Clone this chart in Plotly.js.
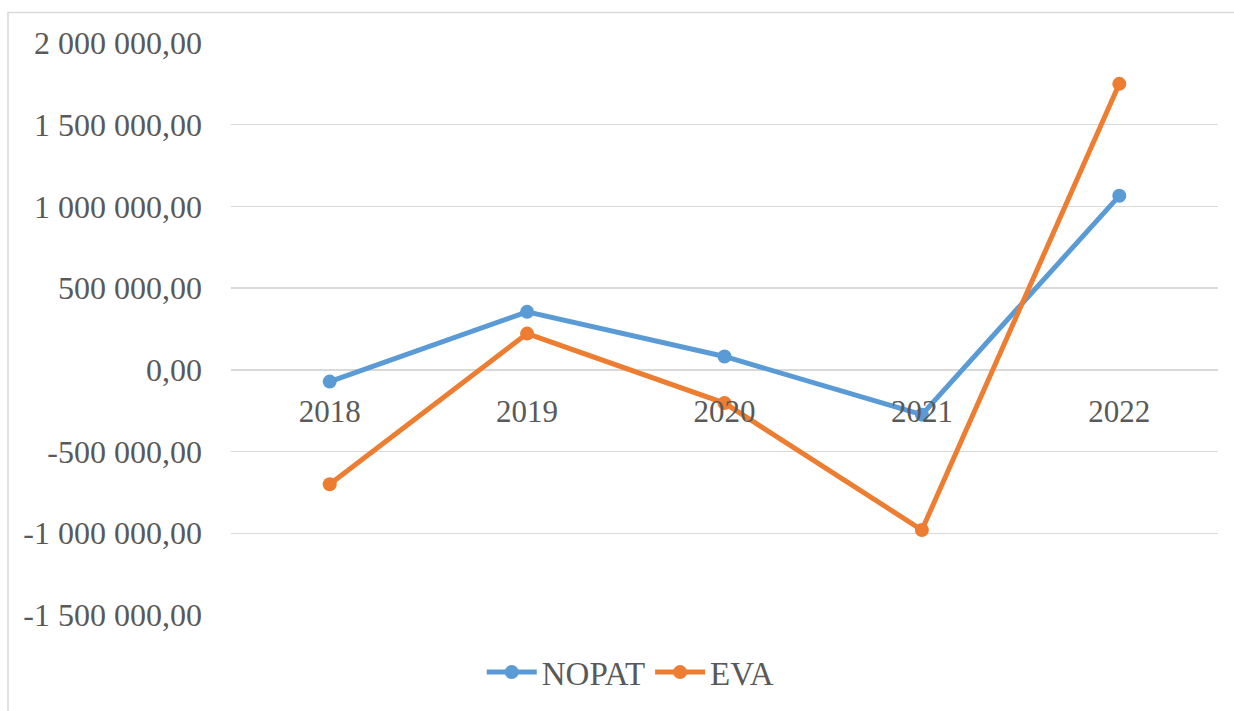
<!DOCTYPE html>
<html>
<head>
<meta charset="utf-8">
<script src="https://cdn.plot.ly/plotly-3.0.1.min.js"></script>
<style>
  html, body { margin: 0; padding: 0; background: #fff; }
  #chart { width: 1234px; height: 711px; }
</style>
</head>
<body>
<div id="chart"></div>
<script>
const years = ['2018', '2019', '2020', '2021', '2022'];
const nopat = [-72000, 355000, 82000, -274000, 1065000];
const eva = [-700000, 222000, -203000, -980000, 1750000];
const yTickVals = [-1500000, -1000000, -500000, 0, 500000, 1000000, 1500000, 2000000];
const yTickText = ['-1 500 000,00', '-1 000 000,00', '-500 000,00', '0,00', '500 000,00', '1 000 000,00', '1 500 000,00', '2 000 000,00'];

const yMin = -1500000, yMax = 2000000;
const fontFamily = 'Liberation Serif, Times New Roman, serif';
const textColor = '#595959';

const traces = [
  {
    x: years, y: nopat, name: 'NOPAT', type: 'scatter', mode: 'lines+markers',
    line: { color: '#5B9BD5', width: 5 },
    marker: { color: '#5B9BD5', size: 14 }
  },
  {
    x: years, y: eva, name: 'EVA', type: 'scatter', mode: 'lines+markers',
    line: { color: '#ED7D31', width: 5 },
    marker: { color: '#ED7D31', size: 14 }
  }
];

const layout = {
  width: 1234, height: 711,
  paper_bgcolor: '#fff', plot_bgcolor: '#fff',
  margin: { l: 231, r: 16, t: 43, b: 94.5, pad: 0 },
  font: { family: fontFamily, color: textColor, size: 32 },
  showlegend: true,
  legend: {
    orientation: 'h', x: 0.405, xanchor: 'center', y: -0.098, yanchor: 'middle',
    font: { family: fontFamily, color: textColor, size: 33 },
    itemwidth: 50, bgcolor: 'rgba(0,0,0,0)'
  },
  xaxis: {
    type: 'category', range: [-0.5, 4.5], anchor: 'free', position: (0 - yMin) / (yMax - yMin),
    showgrid: false, showline: false, zeroline: false, ticks: '',
    ticklabelstandoff: 20,
    tickfont: { family: fontFamily, color: textColor, size: 31 }
  },
  yaxis: {
    range: [yMin, yMax], tickvals: yTickVals, ticktext: yTickText,
    showgrid: true, gridcolor: '#d9d9d9', gridwidth: 1.5,
    zeroline: false, showline: false, ticks: '',
    ticklabelstandoff: 28,
    tickfont: { family: fontFamily, color: textColor, size: 32 }
  },
  shapes: [
    {
      type: 'rect', xref: 'paper', yref: 'paper',
      x0: (8 - 231) / 987, x1: 1.05, y0: -0.3, y1: (616.5 - 12) / 573.8,
      line: { color: '#d9d9d9', width: 1.5 }, fillcolor: 'rgba(0,0,0,0)', layer: 'below'
    }
  ]
};

Plotly.newPlot('chart', traces, layout, { displayModeBar: false, staticPlot: true });
</script>
</body>
</html>
